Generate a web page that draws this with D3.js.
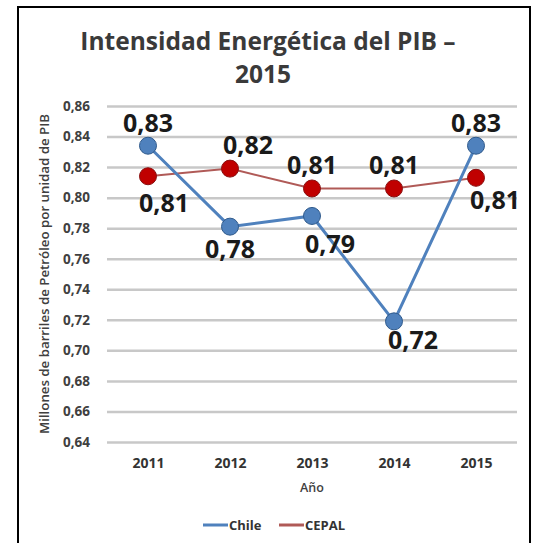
<!DOCTYPE html>
<html>
<head>
<meta charset="utf-8">
<script src="https://cdn.jsdelivr.net/npm/d3@7"></script>
<style>
  body { margin: 0; background: #fff; }
  text { font-family: "Open Sans", "Liberation Sans", sans-serif; }
</style>
</head>
<body>
<div id="vis"></div>
<script>
// data
var years = ['2011', '2012', '2013', '2014', '2015'];
var chileValues = [0.834, 0.781, 0.788, 0.719, 0.834];
var cepalValues = [0.814, 0.819, 0.806, 0.806, 0.813];
var yTicks = [0.64, 0.66, 0.68, 0.70, 0.72, 0.74, 0.76, 0.78, 0.80, 0.82, 0.84, 0.86];

// label offsets (px) from each marker, as Excel placed them
var chileLabelOffsets = [[0, -14], [0, 31], [18, 37], [19, 28], [0, -14]];
var cepalLabelOffsets = [[16, 36], [18, -15], [0, -14], [0, -14], [19, 31]];

var width = 536;
var height = 543;
var plot = { left: 107, right: 517, top: 106, bottom: 442 };

var svg = d3.select('#vis')
  .append('svg')
  .attr('width', width)
  .attr('height', height);

// frame
svg.append('path')
  .attr('d', 'M18,' + (height + 5) + 'V7H530V' + (height + 5))
  .attr('fill', 'none')
  .attr('stroke', '#000')
  .attr('stroke-width', 2);

var x = d3.scalePoint().domain(years).range([plot.left, plot.right]).padding(0.5);
var y = d3.scaleLinear().domain([0.64, 0.86]).range([plot.bottom, plot.top]);
var fmt = function (v) { return d3.format('.2f')(v).replace('.', ','); };

// title
var title = svg.append('text')
  .attr('text-anchor', 'middle')
  .attr('fill', '#3a3a3a')
  .attr('font-weight', 700)
  .attr('font-size', 24.5);
title.append('tspan').attr('x', 268).attr('y', 50).text('Intensidad Energética del PIB –');
title.append('tspan').attr('x', 263).attr('y', 83).text('2015');

// gridlines + y labels
var yAxis = d3.axisLeft(y)
  .tickValues(yTicks)
  .tickSize(-(plot.right - plot.left))
  .tickPadding(17)
  .tickFormat(fmt);

var gy = svg.append('g')
  .attr('transform', 'translate(' + plot.left + ',0)')
  .call(yAxis);
gy.select('.domain').remove();
gy.selectAll('.tick line').attr('stroke', '#c8c8c8').attr('stroke-width', 2.5);
gy.selectAll('.tick text')
  .attr('fill', '#404040')
  .attr('font-size', 13.5)
  .attr('font-weight', 700)
  .attr('font-family', '"Open Sans", sans-serif');

// x labels
var xAxis = d3.axisBottom(x).tickSize(0).tickPadding(16);
var gx = svg.append('g')
  .attr('transform', 'translate(0,' + plot.bottom + ')')
  .call(xAxis);
gx.select('.domain').remove();
gx.selectAll('.tick text')
  .attr('fill', '#333')
  .attr('font-size', 14)
  .attr('font-weight', 700)
  .attr('font-family', '"Open Sans", sans-serif');

svg.append('text')
  .attr('x', 312)
  .attr('y', 492)
  .attr('text-anchor', 'middle')
  .attr('fill', '#404040')
  .attr('font-size', 12.5)
  .attr('font-weight', 600)
  .text('Año');

svg.append('text')
  .attr('transform', 'translate(49,274) rotate(-90)')
  .attr('text-anchor', 'middle')
  .attr('fill', '#404040')
  .attr('font-size', 12)
  .attr('font-weight', 600)
  .attr('textLength', 320)
  .attr('lengthAdjust', 'spacingAndGlyphs')
  .text('Millones de barriles de Petróleo por unidad de PIB');

var series = [
  { name: 'Chile', values: chileValues, offsets: chileLabelOffsets, line: '#4f81bd', lineWidth: 3, fill: '#4f81bd', stroke: '#2f5a8c' },
  { name: 'CEPAL', values: cepalValues, offsets: cepalLabelOffsets, line: '#b05a57', lineWidth: 2, fill: '#c00000', stroke: '#8a1010' }
];

var line = d3.line()
  .x(function (d, i) { return x(years[i]); })
  .y(function (d) { return y(d); });

// CEPAL drawn first so Chile sits on top
series.slice().reverse().forEach(function (s) {
  svg.append('path')
    .datum(s.values)
    .attr('fill', 'none')
    .attr('stroke', s.line)
    .attr('stroke-width', s.lineWidth)
    .attr('d', line);
});

series.slice().reverse().forEach(function (s) {
  svg.selectAll('.m-' + s.name)
    .data(s.values)
    .enter()
    .append('circle')
    .attr('cx', function (d, i) { return x(years[i]); })
    .attr('cy', function (d) { return y(d); })
    .attr('r', 8.5)
    .attr('fill', s.fill)
    .attr('stroke', s.stroke)
    .attr('stroke-width', 1);
});

series.forEach(function (s) {
  svg.selectAll('.l-' + s.name)
    .data(s.values)
    .enter()
    .append('text')
    .attr('x', function (d, i) { return x(years[i]) + s.offsets[i][0]; })
    .attr('y', function (d, i) { return y(d) + s.offsets[i][1]; })
    .attr('text-anchor', 'middle')
    .attr('fill', '#1a1a1a')
    .attr('font-size', 25)
    .attr('font-weight', 700)
    .text(fmt);
});

// legend
var legend = svg.append('g').attr('transform', 'translate(203,525)');
var legendX = [0, 76];
series.forEach(function (s, i) {
  var g = legend.append('g').attr('transform', 'translate(' + legendX[i] + ',0)');
  g.append('line')
    .attr('x1', 0).attr('x2', 25)
    .attr('stroke', s.line)
    .attr('stroke-width', 3);
  g.append('text')
    .attr('x', 26)
    .attr('y', 4.5)
    .attr('fill', '#333')
    .attr('font-size', 13)
    .attr('font-weight', 700)
    .text(s.name);
});
</script>
</body>
</html>
